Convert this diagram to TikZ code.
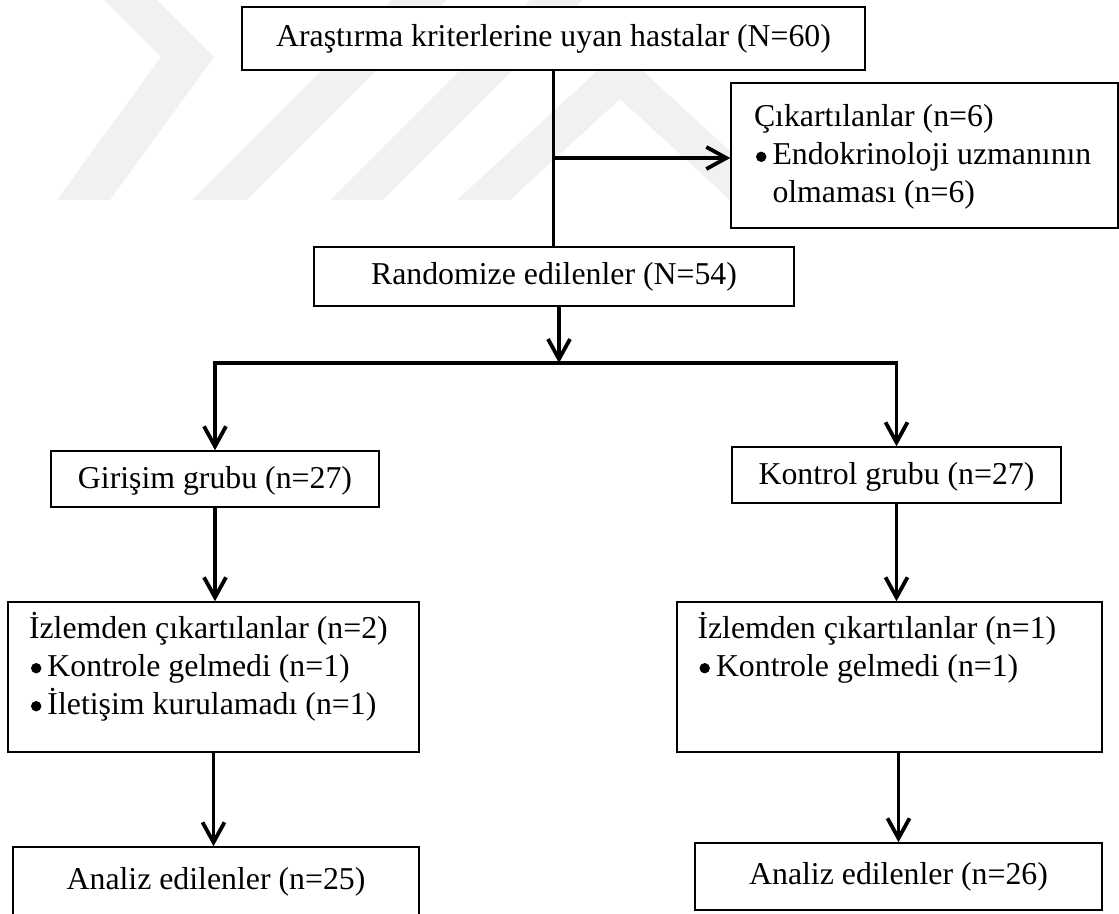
\documentclass[tikz,border=0pt]{standalone}
\usepackage{fontspec}
\usepackage{pict2e}
\setmainfont{Liberation Serif}
\usetikzlibrary{arrows.meta}
\definecolor{wm}{RGB}{241,241,241}
\newcommand\lbox[5]{\parbox[c][#2][t]{#1}{\vspace*{#3}\leftskip=#4\relax\rightskip=0pt plus 1fil\relax\parfillskip=0pt plus 1fil\relax #5}}
\newcommand\bul{\makebox[9.25pt][l]{\setlength{\unitlength}{1pt}\begin{picture}(0,0)\put(3.6,4.1){\circle*{5.2}}\end{picture}}}
\newcommand\ind{\hspace*{9.25pt}}
\begin{document}
\begin{tikzpicture}[x=0.5pt,y=-0.5pt,
  every node/.style={font=\fontsize{15.9}{19}\selectfont},
  box/.style={draw=black,line width=0.75pt,fill=white,inner sep=0pt},
  conn/.style={line width=1.9pt,line join=miter},
  tip/.tip={Straight Barb[length=10pt,width=11pt]},
  arr/.style={conn,-tip},
  arrboth/.style={conn,tip-tip}]
\useasboundingbox (0,0) rectangle (1119,914);
% faint watermark
\fill[wm] (104,0) -- (157,0) -- (214,57) -- (110,200) -- (57,200) -- (161,57) -- cycle;
\fill[wm] (192,200) -- (247,200) -- (447,0) -- (392,0) -- cycle;
\fill[wm] (330,200) -- (383,200) -- (583,0) -- (530,0) -- cycle;
\fill[wm] (457,200) -- (620,50) -- (783,200) -- (730,200) -- (620,99) -- (510,200) -- cycle;
% boxes
\node[box,minimum width=311.5pt,minimum height=31.5pt] (top) at (553.5,38.5) {Araştırma kriterlerine uyan hastalar (N=60)};
\node[box] (cik) at (924.5,155.5) {\lbox{193.5pt}{72.5pt}{8.7pt}{11.5pt}{\strut Çıkartılanlar (n=6)\par\bul\strut Endokrinoloji uzmanının\par\ind\strut olmaması (n=6)}};
\node[box,minimum width=240pt,minimum height=29.5pt] (rand) at (554,276.5) {Randomize edilenler (N=54)};
\node[box,minimum width=164pt,minimum height=28pt,text depth=1.6pt] (gir) at (215,479) {Girişim grubu (n=27)};
\node[box,minimum width=164.5pt,minimum height=28pt,text depth=1.6pt] (kon) at (896.5,475) {Kontrol grubu (n=27)};
\node[box] (izL) at (213.5,677) {\lbox{205.5pt}{75pt}{4.9pt}{10.5pt}{\strut İzlemden çıkartılanlar (n=2)\par\bul\strut Kontrole gelmedi (n=1)\par\bul\strut İletişim kurulamadı (n=1)}};
\node[box] (izR) at (889.5,677) {\lbox{212.5pt}{75pt}{4.9pt}{10.25pt}{\strut İzlemden çıkartılanlar (n=1)\par\bul\strut Kontrole gelmedi (n=1)}};
\node[box,minimum width=203pt,minimum height=34.5pt] (anL) at (216,881.5) {Analiz edilenler (n=25)};
\node[box,minimum width=203.5pt,minimum height=33.5pt] (anR) at (898.5,876.5) {Analiz edilenler (n=26)};
% connectors
\coordinate (br) at (553.5,158);
\coordinate (split) at (559,363);
\draw[conn] (top.south) -- (top.south |- rand.north);
\draw[arr] (br) -- (br -| cik.west);
\draw[arr] (rand.south -| split) -- (split);
\draw[arrboth] (gir.north) -- (gir.north |- split) -- (kon.north |- split) -- (kon.north);
\draw[arr] (gir.south) -- (gir.south |- izL.north);
\draw[arr] (kon.south) -- (kon.south |- izR.north);
\draw[arr] (izL.south) -- (izL.south |- anL.north);
\draw[arr] (anR.north |- izR.south) -- (anR.north);
\end{tikzpicture}
\end{document}
